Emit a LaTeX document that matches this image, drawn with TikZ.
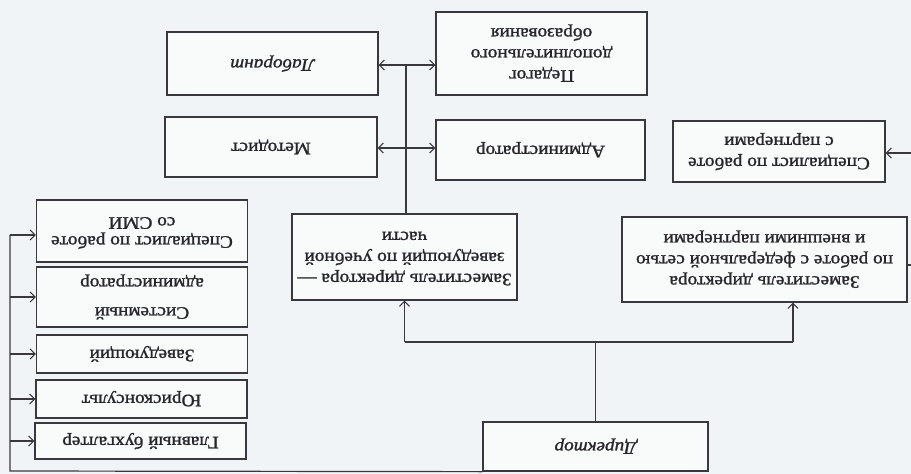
\documentclass[tikz,border=0pt]{standalone}
\usepackage{graphicx}
\usepackage{fontspec}
\setmainfont{Liberation Serif}[FakeStretch=1.1,
  BoldFont={Liberation Serif}, BoldFeatures={FakeBold=1.4,FakeStretch=1.1},
  BoldItalicFont={Liberation Serif Italic}, BoldItalicFeatures={FakeBold=1.4,FakeStretch=1.1}]
\usetikzlibrary{arrows.meta}
\definecolor{paper}{RGB}{241,244,246}
\definecolor{ink}{RGB}{58,56,62}
\definecolor{txt}{RGB}{40,38,42}
\newcommand\ud[1]{\rotatebox[origin=c]{180}{\begin{tabular}{@{}c@{}}#1\end{tabular}}}
\tikzset{
  box/.style={draw=ink, line width=1.3pt, fill=white!60!paper, inner sep=0pt,
    text=txt, font=\fontsize{17.5}{21}\selectfont\bfseries},
  conn/.style={draw=ink, line width=1.2pt},
  arr/.style={conn, -{Straight Barb[length=5pt,width=10pt,line width=1.1pt]}},
  darr/.style={conn, {Straight Barb[length=5pt,width=10pt,line width=1.1pt]}-{Straight Barb[length=5pt,width=10pt,line width=1.1pt]}}
}
\begin{document}
\begin{tikzpicture}[x=1pt,y=-1pt]
\fill[paper] (0,0) rectangle (911,474);
\useasboundingbox (0,0) rectangle (911,474);
% left column
\node[box, minimum width=211pt, minimum height=62pt] (smi) at (142,231) {\ud{Специалист по работе\\[-2pt] со СМИ}};
\node[box, minimum width=211pt, minimum height=60pt] (sys) at (142,297) {\ud{Системный\\[8pt] администратор}};
\node[box, minimum width=211pt, minimum height=38pt] (zav) at (142,354) {\ud{Заведующий}};
\node[box, minimum width=211pt, minimum height=38pt] (jur) at (141.5,399) {\ud{Юрисконсульт}};
\node[box, minimum width=211pt, minimum height=36pt] (buh) at (140.5,441) {\ud{Главный бухгалтер}};
% deputies and director
\node[box, minimum width=225pt, minimum height=86pt] (zdu) at (404.5,257) {\ud{Заместитель директора —\\ заведующий по учебной\\ части}};
\node[box, minimum width=285pt, minimum height=85pt] (zdp) at (764.5,259.5) {\ud{Заместитель директора\\ по работе с федеральной сетью\\ и внешними партнерами}};
\node[box, minimum width=225pt, minimum height=49pt] (dir) at (595.5,446.5) {\ud{\itshape Директор}};
% top boxes
\node[box, minimum width=211pt, minimum height=63pt] (lab) at (272.5,63.5) {\ud{\itshape Лаборант}};
\node[box, minimum width=212pt, minimum height=60pt] (met) at (271,147) {\ud{Методист}};
\node[box, minimum width=211pt, minimum height=83pt] (ped) at (541.5,53.5) {\ud{Педагог\\ дополнительного\\ образования}};
\node[box, minimum width=209pt, minimum height=60pt] (adm) at (540.5,150) {\ud{Администратор}};
\node[box, minimum width=212pt, minimum height=61pt] (spp) at (779,151.5) {\ud{Специалист по работе\\ с партнерами}};
% director to deputies
\coordinate (jd) at (595.5,342);
\coordinate (jl) at (404.5,342);
\coordinate (jr) at (793,342);
\draw[conn] (dir.north) -- (jd);
\draw[conn] (jl) -- (jr);
\draw[arr] (jl) -- (zdu.south);
\draw[arr] (jr) -- (jr |- zdp.south);
% deputy (teaching) to staff
\coordinate (t1) at (406,65);
\coordinate (t2) at (406,148);
\draw[conn] (t1 |- zdu.north) -- (t1);
\draw[darr] (lab.east |- t1) -- (ped.west |- t1);
\draw[darr] (met.east |- t2) -- (adm.west |- t2);
% left bracket
\coordinate (b0) at (10,235);
\coordinate (b1) at (10,471);
\draw[conn] (dir.south west) -- (b1) -- (b0);
\draw[arr] (b0) -- (smi.west |- b0);
\draw[arr] (b1 |- sys.west) -- (sys.west);
\draw[arr] (b1 |- zav.west) -- (zav.west);
\draw[arr] (b1 |- jur.west) -- (jur.west);
\draw[arr] (b1 |- buh.west) -- (buh.west);
% right stubs
\coordinate (r1) at (911,153);
\coordinate (r2) at (911,265);
\draw[arr] (r1) -- (spp.east |- r1);
\draw[conn] (zdp.east |- r2) -- (r2);
\end{tikzpicture}
\end{document}
